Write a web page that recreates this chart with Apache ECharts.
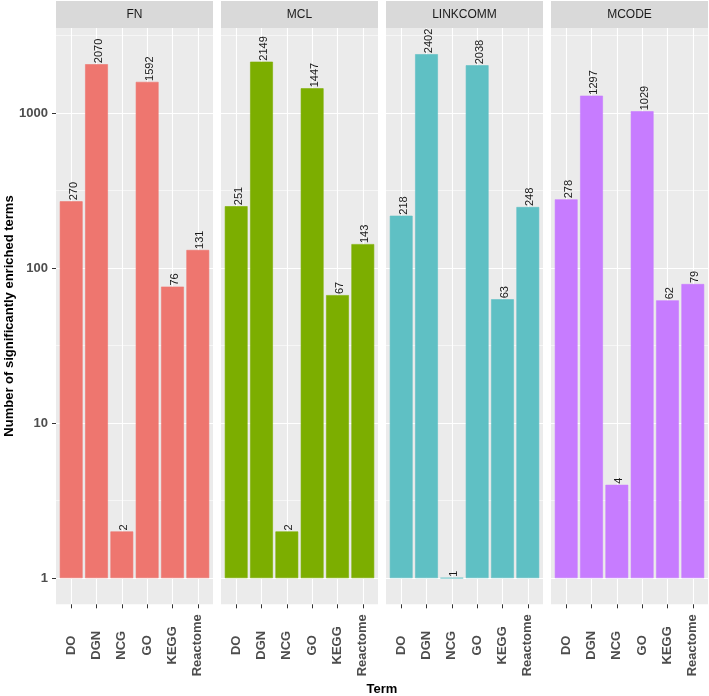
<!DOCTYPE html>
<html>
<head>
<meta charset="utf-8">
<script src="https://cdn.jsdelivr.net/npm/echarts@6/dist/echarts.min.js"></script>
<style>html,body{margin:0;padding:0;background:#fff}#c{width:709px;height:696px}</style>
</head>
<body>
<div id="c"></div>
<script>
const categories = ['DO', 'DGN', 'NCG', 'GO', 'KEGG', 'Reactome'];
const methods = ['FN', 'MCL', 'LINKCOMM', 'MCODE'];
const fnValues = [270, 2070, 2, 1592, 76, 131];
const mclValues = [251, 2149, 2, 1447, 67, 143];
const linkcommValues = [218, 2402, 1, 2038, 63, 248];
const mcodeValues = [278, 1297, 4, 1029, 62, 79];
const yTickValues = [1, 10, 100, 1000];
const yMinorValues = [3.1623, 31.623, 316.23, 3162.3];
const colors = ['#EE766F', '#7CAE00', '#5FC0C4', '#C77CFF'];

const allValues = [fnValues, mclValues, linkcommValues, mcodeValues];
const FONT = "'Liberation Sans', Arial, sans-serif";
const panelTop = 28, panelH = 576.3, panelW = 157, panelStep = 165, panelLeft0 = 56;
const band = panelW / 6.2;
const yMin = Math.pow(10, -0.169), yMax = Math.pow(10, 3.5496);

const grid = [], xAxis = [], yAxis = [], series = [], graphic = [];
methods.forEach((m, i) => {
  const L = panelLeft0 + i * panelStep;
  grid.push({left: L, top: panelTop, width: panelW, height: panelH, show: true,
    backgroundColor: '#EBEBEB', borderWidth: 0, containLabel: false});
  grid.push({left: L + 0.1 * band, top: panelTop, width: 6 * band, height: panelH,
    show: false, containLabel: false});
  const gb = 2 * i, gm = 2 * i + 1;
  xAxis.push({type: 'category', gridIndex: gb, data: categories, show: false});
  xAxis.push({type: 'category', gridIndex: gm, data: categories,
    axisLine: {show: false},
    axisTick: {show: true, alignWithLabel: true, length: 4, lineStyle: {color: '#333333', width: 1}},
    splitLine: {show: true, alignWithLabel: true, lineStyle: {color: '#FFFFFF', width: 1.1}},
    axisLabel: {show: true, rotate: 90, align: 'center', margin: 41, interval: 0,
      fontFamily: FONT, fontSize: 13, fontWeight: 'bold', color: '#4D4D4D'}
  });
  yAxis.push({type: 'log', gridIndex: gb, min: yMin, max: yMax,
    axisLine: {show: false},
    axisTick: {show: i === 0, length: 4, lineStyle: {color: '#333333'}, customValues: yTickValues},
    axisLabel: {show: i === 0, customValues: yTickValues, margin: 8, fontFamily: FONT,
      fontSize: 13, fontWeight: 'bold', color: '#4D4D4D', formatter: v => String(Math.round(v))},
    splitLine: {show: true, lineStyle: {color: '#FFFFFF', width: 1.1}},
    minorTick: {show: false}, minorSplitLine: {show: false}
  });
  yAxis.push({type: 'log', gridIndex: gb, min: yMin, max: yMax, position: 'right',
    axisLine: {show: false},
    axisTick: {show: false, customValues: yMinorValues},
    axisLabel: {show: false, customValues: yMinorValues},
    splitLine: {show: true, lineStyle: {color: '#FFFFFF', width: 0.55}}
  });
  yAxis.push({type: 'log', gridIndex: gm, min: yMin, max: yMax, show: false,
    splitLine: {show: false}});
  series.push({
    type: 'bar', name: m, xAxisIndex: 2 * i + 1, yAxisIndex: 3 * i + 2,
    data: allValues[i], barWidth: '90%',
    itemStyle: {color: colors[i], borderColor: colors[i], borderWidth: 0.6},
    label: {show: true, position: 'top', rotate: 90, align: 'left', verticalAlign: 'middle',
      distance: 1, offset: [0, 2.5], fontFamily: FONT, fontSize: 11, color: '#1A1A1A'}
  });
  graphic.push({type: 'rect', shape: {x: L, y: 1, width: panelW, height: 27},
    style: {fill: '#D9D9D9'}, silent: true});
  graphic.push({type: 'text', x: L + panelW / 2, y: 14.5,
    style: {text: m, fill: '#1A1A1A', font: '12px ' + FONT, textAlign: 'center', textVerticalAlign: 'middle'}});
});
graphic.push({type: 'text', x: 382, y: 689,
  style: {text: 'Term', fill: '#000', font: 'bold 13px ' + FONT, textAlign: 'center', textVerticalAlign: 'middle'}});
graphic.push({type: 'text', x: 9, y: 316, rotation: Math.PI / 2,
  style: {text: 'Number of significantly enriched terms', fill: '#000', font: 'bold 13px ' + FONT,
    textAlign: 'center', textVerticalAlign: 'middle'}});

const chart = echarts.init(document.getElementById('c'), null, {renderer: 'canvas'});
chart.setOption({animation: false, backgroundColor: '#FFFFFF', grid, xAxis, yAxis, series, graphic});
</script>
</body>
</html>
